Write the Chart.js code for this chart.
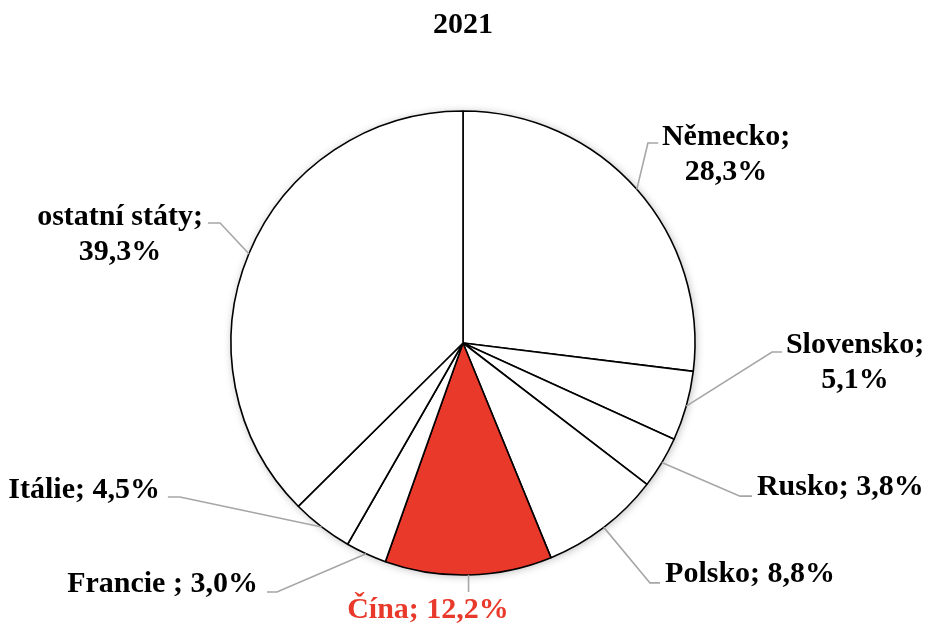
<!DOCTYPE html>
<html>
<head>
<meta charset="utf-8">
<script src="https://cdn.jsdelivr.net/npm/chart.js@4/dist/chart.umd.min.js"></script>
<style>
  html, body { margin: 0; padding: 0; background: #ffffff; }
  #wrap { width: 927px; height: 625px; }
</style>
</head>
<body>
<div id="wrap"><canvas id="c" width="927" height="625"></canvas></div>
<script>
// ---- data ----
const chartTitle = "2021";
const categories = ["Německo", "Slovensko", "Rusko", "Polsko", "Čína", "Francie ", "Itálie", "ostatní státy"];
const shares = [28.3, 5.1, 3.8, 8.8, 12.2, 3.0, 4.5, 39.3];
const valueLabels = ["28,3%", "5,1%", "3,8%", "8,8%", "12,2%", "3,0%", "4,5%", "39,3%"];

// ---- styling / layout (not data) ----
const sliceColors = ["#ffffff", "#ffffff", "#ffffff", "#ffffff", "#e8392a", "#ffffff", "#ffffff", "#ffffff"];
const labelColors = ["#000", "#000", "#000", "#000", "#e8392a", "#000", "#000", "#000"];
const FONT = "bold 30px 'Liberation Serif', 'Times New Roman', serif";
const LINE_H = 35;
// label layout relative to pie centre, in units of radius
// elbow: end of slanted leader; hx: end of horizontal stub; tx: text anchor x; ty: first baseline; twoLine; align
const labelLayout = [
  { ex: 0.797, ey: -0.862, hx: 0.841, tx: 1.134, ty: -0.853, two: true, align: "center" },
  { ex: 1.332, ey: 0.039, hx: 1.375, tx: 1.690, ty: 0.043, two: true, align: "center" },
  { ex: 1.194, ey: 0.660, hx: 1.246, tx: 1.267, ty: 0.655, two: false, align: "left" },
  { ex: 0.806, ey: 1.034, hx: 0.849, tx: 0.871, ty: 1.030, two: false, align: "left" },
  { ex: 0.022, ey: 1.073, hx: 0.022, tx: -0.151, ty: 1.185, two: false, align: "center", vertical: true },
  { ex: -0.802, ey: 1.073, hx: -0.845, tx: -0.884, ty: 1.073, two: false, align: "right" },
  { ex: -1.220, ey: 0.664, hx: -1.272, tx: -1.306, ty: 0.668, two: false, align: "right" },
  { ex: -1.047, ey: -0.517, hx: -1.099, tx: -1.478, ty: -0.509, two: true, align: "center" }
];

const labelPlugin = {
  id: "pieLabels",
  beforeDatasetsDraw(chart) {
    const meta = chart.getDatasetMeta(0);
    const a = meta.data[0];
    const ctx = chart.ctx;
    ctx.save();
    ctx.shadowColor = "rgba(0,0,0,0.28)";
    ctx.shadowBlur = 9;
    ctx.shadowOffsetX = 1;
    ctx.shadowOffsetY = 1;
    ctx.fillStyle = "#ffffff";
    ctx.beginPath();
    ctx.arc(a.x, a.y, a.outerRadius, 0, Math.PI * 2);
    ctx.fill();
    ctx.restore();
  },
  afterDatasetsDraw(chart) {
    const ctx = chart.ctx;
    const meta = chart.getDatasetMeta(0);
    ctx.save();
    // title
    ctx.font = FONT;
    ctx.fillStyle = "#000";
    ctx.textAlign = "center";
    ctx.textBaseline = "alphabetic";
    const c0 = meta.data[0];
    ctx.fillText(chartTitle, c0.x, 33);

    meta.data.forEach((arc, i) => {
      const L = labelLayout[i];
      const cx = arc.x, cy = arc.y, r = arc.outerRadius;
      const mid = (arc.startAngle + arc.endAngle) / 2;
      const sx = cx + Math.cos(mid) * r;
      const sy = cy + Math.sin(mid) * r;
      const ex = cx + L.ex * r, ey = cy + L.ey * r;
      const hx = cx + L.hx * r;
      ctx.strokeStyle = "#a6a6a6";
      ctx.lineWidth = 1.6;
      ctx.beginPath();
      ctx.moveTo(sx, sy);
      if (L.vertical) {
        ctx.lineTo(sx, ey);
      } else {
        ctx.lineTo(ex, ey);
        ctx.lineTo(hx, ey);
      }
      ctx.stroke();

      ctx.fillStyle = labelColors[i];
      ctx.font = FONT;
      ctx.textAlign = L.align;
      const tx = cx + L.tx * r, ty = cy + L.ty * r;
      if (L.two) {
        ctx.fillText(categories[i] + ";", tx, ty);
        ctx.fillText(valueLabels[i], tx, ty + LINE_H);
      } else {
        ctx.fillText(categories[i] + "; " + valueLabels[i], tx, ty);
      }
    });
    ctx.restore();
  }
};

new Chart(document.getElementById("c"), {
  type: "pie",
  data: {
    labels: categories,
    datasets: [{
      data: shares,
      backgroundColor: sliceColors,
      borderColor: "#000000",
      borderWidth: 1.6,
      hoverOffset: 0,
      offset: 0
    }]
  },
  options: {
    responsive: false,
    animation: false,
    radius: 232,
    rotation: 0,
    layout: { padding: { left: 231, right: 232, top: 111, bottom: 50 } },
    plugins: {
      legend: { display: false },
      tooltip: { enabled: false },
      title: { display: false }
    }
  },
  plugins: [labelPlugin]
});
</script>
</body>
</html>
